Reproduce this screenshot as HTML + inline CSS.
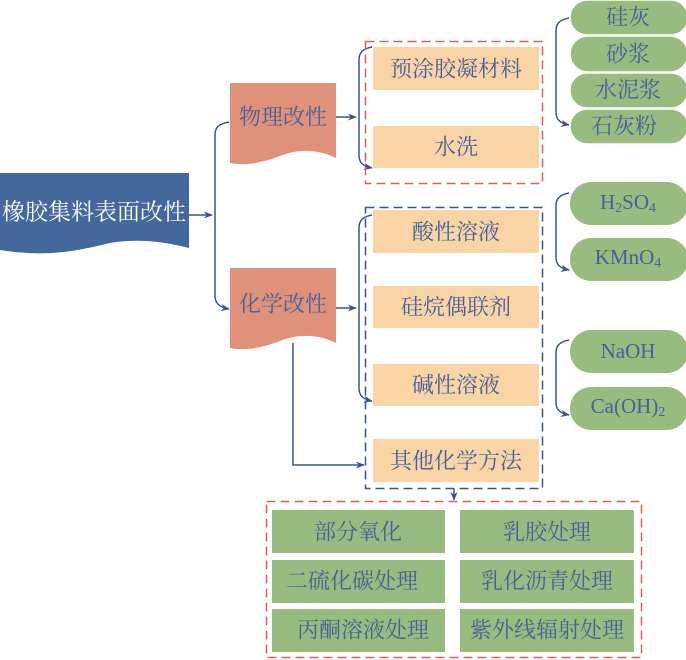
<!DOCTYPE html>
<html><head><meta charset="utf-8"><style>
html,body{margin:0;padding:0;background:#fff;}
svg{display:block}
text{font-family:"Liberation Serif","Noto Serif CJK SC","Noto Sans CJK SC",serif;fill:#46609a;font-size:22px;text-anchor:middle;dominant-baseline:central}
</style></head><body>
<svg width="686" height="660" viewBox="0 0 686 660" xmlns="http://www.w3.org/2000/svg">
<defs>
<marker id="a" viewBox="0 0 10 10" refX="9" refY="5" markerWidth="9" markerHeight="9" orient="auto" markerUnits="userSpaceOnUse"><path d="M0,1 L10,5 L0,9 L3,5 Z" fill="#3a5589"/></marker>
</defs>
<path d="M0,173 H189 V248 C165,242 140,238 110,243 C80,250 50,258 0,250 Z" fill="#44679c"/>
<text x="94" y="212" style="fill:#fff;font-size:23px">橡胶集料表面改性</text>
<path d="M230,83 H336 V158 C320,150 300,148 280,156 C262,163 245,166 230,163 Z" fill="#e0917a"/>
<text x="283" y="117">物理改性</text>
<path d="M230,268 H336 V343 C320,335 300,333 280,341 C262,348 245,351 230,348 Z" fill="#e0917a"/>
<text x="283" y="304">化学改性</text>
<g fill="none" stroke="#3a5589" stroke-width="1.5">
<path d="M189,215 H212" marker-end="url(#a)"/>
<path d="M229,122 C218,124 215,128 215,135 V296 C215,302 218,307 229,309" marker-end="url(#a)"/>
<path d="M336,117 H356" marker-end="url(#a)"/>
<path d="M372,47 C362,49 359,53 359,60 V155 C359,162 362,166 372,168" marker-end="url(#a)"/>
<path d="M336,308 H356" marker-end="url(#a)"/>
<path d="M372,215 C362,217 359,221 359,228 V388 C359,395 362,399 372,401" marker-end="url(#a)"/>
<path d="M293,343 V465 H364" marker-end="url(#a)"/>
<path d="M454,489 V500" marker-end="url(#a)"/>
<path d="M569,18 C559,20 556,24 556,31 V112 C556,119 559,123 569,125" marker-end="url(#a)"/>
<path d="M569,193 C559,195 556,199 556,206 V257 C556,264 559,268 569,270" marker-end="url(#a)"/>
<path d="M569,340 C559,342 556,346 556,353 V402 C556,409 559,413 569,415" marker-end="url(#a)"/>
</g>
<rect x="365.5" y="41.5" width="177" height="142" fill="none" stroke="#d9605e" stroke-width="1.5" stroke-dasharray="9,5"/>
<rect x="365.5" y="207.5" width="177" height="281" fill="none" stroke="#3a5589" stroke-width="1.5" stroke-dasharray="9,5"/>
<rect x="266.5" y="501.5" width="375" height="156" fill="none" stroke="#d9605e" stroke-width="1.5" stroke-dasharray="9,5"/>
<g fill="#f9d5a6">
<rect x="373" y="47" width="166" height="43"/>
<rect x="373" y="126" width="166" height="42"/>
<rect x="373" y="210" width="166" height="43"/>
<rect x="373" y="286" width="166" height="42"/>
<rect x="373" y="364" width="166" height="42"/>
<rect x="373" y="439" width="166" height="43"/>
</g>
<text x="456" y="69">预涂胶凝材料</text>
<text x="456" y="147">水洗</text>
<text x="456" y="232">酸性溶液</text>
<text x="456" y="307">硅烷偶联剂</text>
<text x="456" y="385">碱性溶液</text>
<text x="456" y="461">其他化学方法</text>
<g fill="#98bb7f">
<rect x="272" y="510" width="173" height="43"/>
<rect x="460" y="510" width="174" height="43"/>
<rect x="272" y="560" width="173" height="43"/>
<rect x="460" y="560" width="174" height="43"/>
<rect x="272" y="609" width="173" height="43"/>
<rect x="460" y="609" width="174" height="43"/>
</g>
<text x="358" y="532">部分氧化</text>
<text x="547" y="532">乳胶处理</text>
<text x="352" y="581">二硫化碳处理</text>
<text x="547" y="581">乳化沥青处理</text>
<text x="363" y="630">丙酮溶液处理</text>
<text x="547" y="630">紫外线辐射处理</text>
<g fill="#98bb7f" stroke="#fff" stroke-width="1.5">
<rect x="570" y="0" width="118" height="35" rx="17"/>
<rect x="570" y="36" width="118" height="36" rx="18"/>
<rect x="570" y="73" width="118" height="35" rx="17"/>
<rect x="570" y="109" width="118" height="35" rx="17"/>
</g>
<g fill="#98bb7f">
<rect x="570" y="182" width="118" height="43" rx="21"/>
<rect x="570" y="238" width="118" height="43" rx="21"/>
<rect x="570" y="330" width="118" height="43" rx="21"/>
<rect x="570" y="387" width="118" height="43" rx="21"/>
</g>
<text x="628" y="17">硅灰</text>
<text x="628" y="54">砂浆</text>
<text x="628" y="90">水泥浆</text>
<text x="624" y="126">石灰粉</text>
<text x="628" y="202" style="font-size:21px">H<tspan font-size="14" dy="6">2</tspan><tspan dy="-6">SO</tspan><tspan font-size="14" dy="6">4</tspan></text>
<text x="628" y="257" style="font-size:21px">KMnO<tspan font-size="14" dy="6">4</tspan></text>
<text x="628" y="351" style="font-size:21px">NaOH</text>
<text x="628" y="406" style="font-size:21px">Ca(OH)<tspan font-size="14" dy="6">2</tspan></text>
</svg>
</body></html>
